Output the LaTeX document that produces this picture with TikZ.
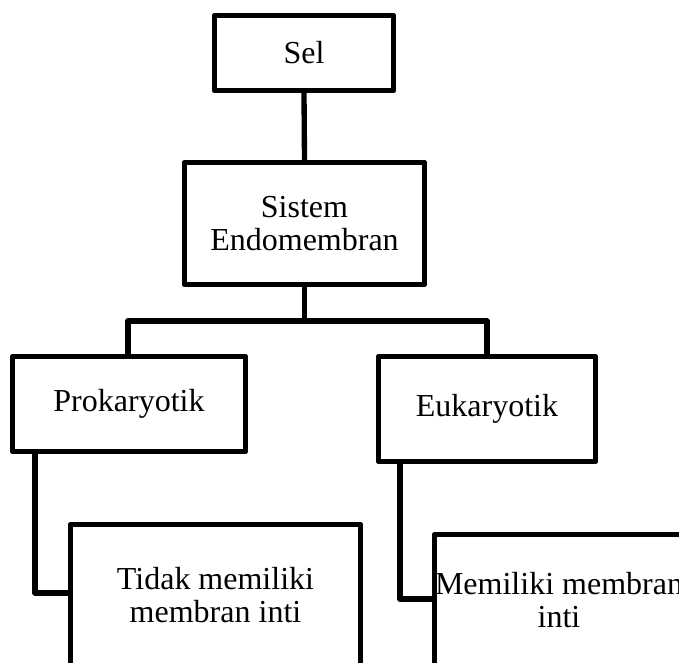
\documentclass[tikz,border=0pt]{standalone}
\usepackage{fontspec}
\setmainfont{Liberation Serif}
\begin{document}
\begin{tikzpicture}[x=0.75pt,y=-0.75pt,
  box/.style={draw, rectangle, line width=4pt, line join=round, inner sep=0pt,
    align=center, font=\fontsize{24}{24.5}\selectfont},
  lbl/.style={inner sep=0pt, align=center, font=\fontsize{24}{24.5}\selectfont},
  link/.style={line width=4pt, line join=round}]
\useasboundingbox (0,0) rectangle (679,663);
\clip (0,0) rectangle (679,663);

% boxes
\node[box, minimum width=134.25pt, minimum height=56.25pt] (sel) at (304,53) {Sel};
\node[box, minimum width=180pt, minimum height=91.5pt] (sistem) at (304.5,223.5) {Sistem\\Endomembran};
\node[box, minimum width=174.75pt, minimum height=71.25pt] (pro) at (129,404) {Prokaryotik};
\node[box, minimum width=162.75pt, minimum height=78.75pt] (eu) at (487,409) {Eukaryotik};
\node[box, minimum width=217.5pt, minimum height=105.75pt] (tidak) at (215.5,595) {Tidak memiliki\\membran inti};
\node[box, minimum width=186.75pt, minimum height=98.25pt] (memiliki) at (559,600) {};
\node[lbl] (memtxt) at (memiliki.center) {Memiliki membran\\inti};

% connectors
\coordinate (busL) at (128,321);
\coordinate (busR) at (487,321);
\coordinate (pk) at (35,593);
\coordinate (ek) at (400,599);
\draw[link] (sel.south) -- (sistem.north);
\draw[link] (sistem.south) -- (sistem.south |- busL);
\draw[link] (busL |- pro.north) -- (busL) -- (busR) -- (busR |- eu.north);
\draw[link] (pk |- pro.south) -- (pk) -- (tidak.west |- pk);
\draw[link] (ek |- eu.south) -- (ek) -- (memiliki.west |- ek);
\end{tikzpicture}
\end{document}
